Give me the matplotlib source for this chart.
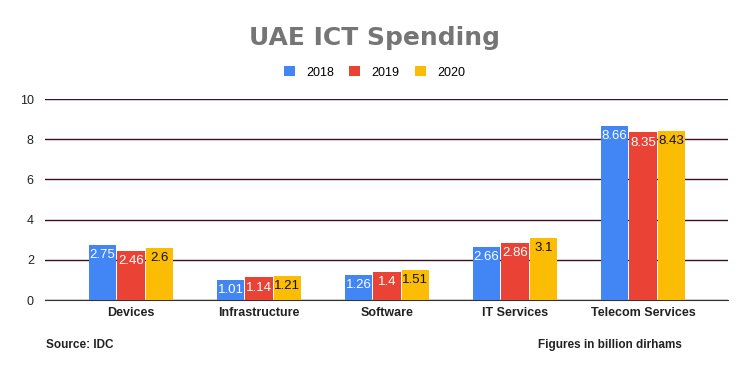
import matplotlib.pyplot as plt
import numpy as np

plt.rcParams['font.family'] = ['Liberation Sans', 'DejaVu Sans']

categories = ["Devices", "Infrastructure", "Software", "IT Services", "Telecom Services"]
years = ["2018", "2019", "2020"]
v2018 = [2.75, 1.01, 1.26, 2.66, 8.66]
v2019 = [2.46, 1.14, 1.4, 2.86, 8.35]
v2020 = [2.6, 1.21, 1.51, 3.1, 8.43]
yticks = [0, 2, 4, 6, 8, 10]

colors = ["#4285F4", "#EA4335", "#FBBC04"]
text_colors = ["white", "white", "#111111"]

fig = plt.figure(figsize=(7.49, 3.71), dpi=100)
ax = fig.add_axes([0.060, 0.191, 0.912, 0.542])

x = np.arange(len(categories))
w = 0.212
offs = [-0.222, 0, 0.222]
handles = []
for vals, off, c, tc, yr in zip([v2018, v2019, v2020], offs, colors, text_colors, years):
    bars = ax.bar(x + off, vals, w, color=c, zorder=3, label=yr)
    handles.append(bars)
    for b, v in zip(bars, vals):
        ax.annotate(f"{v:g}", (b.get_x() + b.get_width() / 2, v),
                    xytext=(0, -7.5), textcoords="offset points",
                    ha="center", va="center", fontsize=9.5, color=tc, zorder=4)

ax.set_xlim(-0.672, 4.664)
ax.set_ylim(0, 10)
ax.set_yticks(yticks)
ax.yaxis.grid(True, color="#3d0c26", linewidth=1)
ax.set_axisbelow(True)
for s in ["left", "right", "top"]:
    ax.spines[s].set_visible(False)
ax.spines["bottom"].set_color("#333333")
ax.tick_params(axis="both", length=0, labelsize=9, colors="#222222")
ax.tick_params(axis="y", pad=8)
ax.tick_params(axis="x", pad=5)
ax.set_xticks(x)
ax.set_xticklabels(categories, fontweight="bold")

fig.text(0.5, 0.897, "UAE ICT Spending", ha="center", va="center",
         fontsize=18, fontweight="heavy", color="#757575", family="DejaVu Sans")
fig.legend(handles=handles, loc="center", bbox_to_anchor=(0.5, 0.805), ncol=3,
           frameon=False, fontsize=9, handlelength=0.9, handleheight=0.9,
           columnspacing=1.2, handletextpad=0.9)
fig.text(0.061, 0.07, "Source: IDC", ha="left", va="center", fontsize=8.5, fontweight="bold", color="#222222")
fig.text(0.718, 0.07, "Figures in billion dirhams", ha="left", va="center", fontsize=8.5, fontweight="bold", color="#222222")

fig.savefig("out.png", dpi=100)
